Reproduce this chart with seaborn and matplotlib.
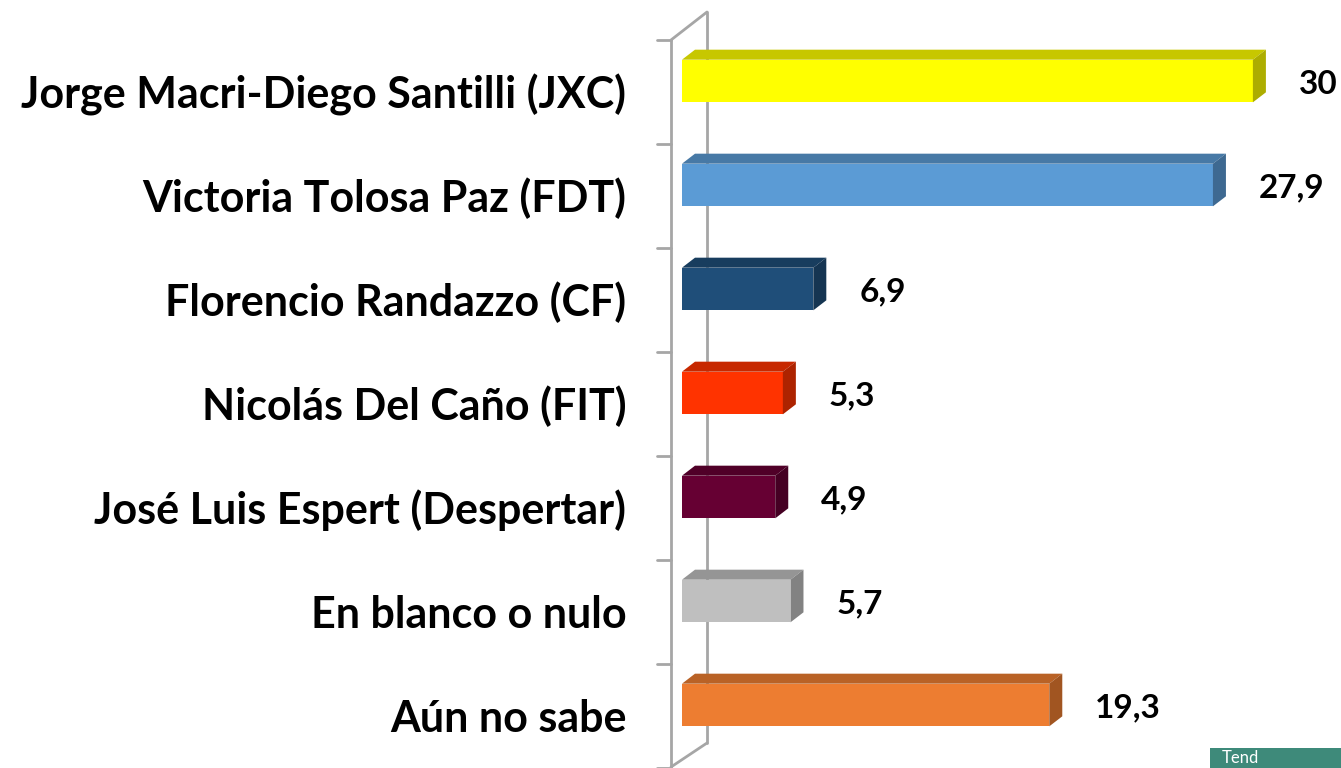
import matplotlib
matplotlib.use("Agg")
import matplotlib.pyplot as plt
import matplotlib.transforms as mtransforms
from matplotlib.patches import Polygon, Rectangle
import matplotlib.colors as mcolors
import seaborn as sns
import pandas as pd

# ---- data ----
candidatos = [
    "Jorge Macri-Diego Santilli (JXC)",
    "Victoria Tolosa Paz (FDT)",
    "Florencio Randazzo (CF)",
    "Nicolás Del Caño (FIT)",
    "José Luis Espert (Despertar)",
    "En blanco o nulo",
    "Aún no sabe",
]
porcentajes = [30, 27.9, 6.9, 5.3, 4.9, 5.7, 19.3]
colores = ["#FFFF00", "#5B9BD5", "#1F4E79", "#FF3300", "#660033", "#BFBFBF", "#ED7D31"]

df = pd.DataFrame({"candidato": candidatos, "pct": porcentajes})

sns.set_style("white")
plt.rcParams["font.family"] = ["Lato", "DejaVu Sans"]

W, H = 1341, 768
fig = plt.figure(figsize=(W / 100, H / 100), dpi=100)

# pixel geometry of the plot area
x0_px, px_per_unit = 682, 19.03
row0_px, row_px = 81, 104
ax = fig.add_axes([x0_px / W, 0, 1 - x0_px / W, 1])

sns.barplot(data=df, x="pct", y="candidato", hue="candidato", palette=colores,
            orient="h", width=0.41, legend=False, saturation=1, linewidth=0, ax=ax)

ax.set_xlim(0, (W - x0_px) / px_per_unit)
ax.set_ylim((H - row0_px) / row_px, -row0_px / row_px)


def dx(px):
    return px / px_per_unit


def dy(px):
    return px / row_px


# 3d faces on each bar
ddx, ddy = dx(13), dy(10)
for bar, col in zip(ax.patches, colores):
    bx, by = bar.get_x(), bar.get_y()
    bw, bh = bar.get_width(), bar.get_height()
    rgb = mcolors.to_rgb(col)
    top_c = tuple(c * 0.78 for c in rgb)
    side_c = tuple(c * 0.68 for c in rgb)
    top = Polygon([(bx, by), (bx + ddx, by - ddy), (bx + bw + ddx, by - ddy), (bx + bw, by)],
                  closed=True, facecolor=top_c, edgecolor="none", zorder=3)
    side = Polygon([(bx + bw, by), (bx + bw + ddx, by - ddy),
                    (bx + bw + ddx, by + bh - ddy), (bx + bw, by + bh)],
                   closed=True, facecolor=side_c, edgecolor="none", zorder=3)
    ax.add_patch(top)
    ax.add_patch(side)
    bar.set_zorder(3)
    bar.set_edgecolor("none")

# value labels
for i, v in enumerate(porcentajes):
    txt = f"{v:g}".replace(".", ",")
    ax.text(v + dx(46), i + dy(3), txt, ha="left", va="center",
            fontsize=24, fontweight="bold", color="black", zorder=5)

# 3d frame (walls)
frame_c = "#A6A6A6"
lw = 2.0
fx, bxw = dx(671 - x0_px), dx(707 - x0_px)
ax.plot([fx, fx], [dy(40 - row0_px), dy(780 - row0_px)], color=frame_c, lw=lw, clip_on=False, zorder=1)
ax.plot([bxw, bxw], [dy(12 - row0_px), dy(743 - row0_px)], color=frame_c, lw=lw, clip_on=False, zorder=1)
ax.plot([fx, bxw], [dy(40 - row0_px), dy(12 - row0_px)], color=frame_c, lw=lw, clip_on=False, zorder=1)
ax.plot([fx, bxw], [dy(767 - row0_px), dy(743 - row0_px)], color=frame_c, lw=lw, clip_on=False, zorder=1)
for k in range(len(candidatos) + 1):
    ty = k - 0.5 + dy(11)
    ax.plot([dx(657 - x0_px), fx], [ty, ty], color=frame_c, lw=lw, clip_on=False, zorder=1)

# category labels
ax.set_yticks(range(len(candidatos)))
ax.set_yticklabels(candidatos, fontsize=31, fontweight="bold", color="black")
ax.tick_params(axis="y", length=0, pad=40)
shift = mtransforms.ScaledTranslation(0, -0.1, fig.dpi_scale_trans)
for lab in ax.get_yticklabels():
    lab.set_transform(lab.get_transform() + shift)
ax.set_xticks([])
ax.set_xlabel("")
ax.set_ylabel("")
for s in ax.spines.values():
    s.set_visible(False)

# corner logo fragment
fig.patches.append(Rectangle((1210 / W, 0), (W - 1210) / W, 20 / H, transform=fig.transFigure,
                             facecolor="#3E8A7A", edgecolor="none"))
fig.text(1222 / W, 2 / H, "Tend", color="white", fontsize=12, ha="left", va="bottom")

fig.savefig("out.png", dpi=100)
